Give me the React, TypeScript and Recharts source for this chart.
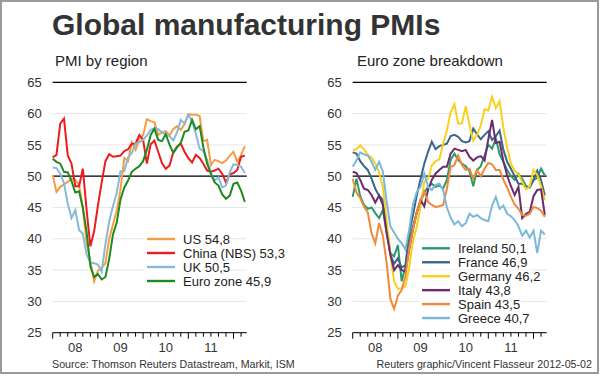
import { CartesianGrid, Line, LineChart, ReferenceLine, XAxis, YAxis } from 'recharts'

// monthly readings, Jan 2008 .. Apr 2012
const START_YEAR = 2008
const periods = Array.from(
  { length: 52 },
  (_, i) => `${START_YEAR + Math.floor(i / 12)}-${String((i % 12) + 1).padStart(2, '0')}`,
)

const yearLabels = ['08', '09', '10', '11']
const yTicks = [25, 30, 35, 40, 45, 50, 55, 60, 65]
const xTicks = [0, 2, 4, 6, 8, 10, 12, 14, 16, 18, 20, 22, 24, 26, 28, 30, 32, 34, 36, 38, 40, 42, 44, 46, 48, 50]

// PMI by region
const us = [
  50.2, 47.5, 48.3, 48.7, 49.1, 49.6, 49.4, 48.6, 44.8, 39.5, 36.4, 33.2,
  34.9, 35.4, 36.1, 40.0, 42.3, 44.5, 47.9, 52.9, 52.4, 55.4, 54.2, 56.0,
  56.5, 59.1, 58.8, 58.6, 56.6, 57.0, 57.2, 56.5, 57.5, 58.0, 57.4, 58.3,
  59.9, 59.8, 59.8, 59.6, 55.6, 55.8, 51.8, 52.6, 52.4, 52.1, 52.5, 53.3,
  53.9, 52.3, 53.4, 54.8,
]
const china = [
  53.0, 53.4, 58.4, 59.2, 53.3, 52.0, 48.4, 48.4, 51.2, 44.6, 38.8, 41.2,
  45.3, 49.0, 52.4, 53.5, 53.1, 53.2, 53.3, 54.0, 54.3, 55.2, 55.2, 56.6,
  55.8, 52.0, 55.1, 55.7, 53.9, 52.1, 51.2, 51.7, 53.8, 54.7, 55.2, 53.9,
  52.9, 52.2, 53.4, 52.9, 52.0, 50.9, 50.7, 50.9, 51.2, 50.4, 49.0, 50.3,
  50.5, 51.0, 53.1, 53.3,
]
const uk = [
  51.4, 51.3, 50.4, 48.9, 45.6, 43.3, 44.6, 41.4, 40.8, 37.5, 36.2, 36.1,
  35.9, 34.7, 39.2, 42.8, 45.2, 47.3, 50.8, 50.8, 53.0, 53.7, 55.2, 55.4,
  55.8, 56.5, 57.4, 57.6, 57.5, 57.0, 56.6, 56.4, 55.7, 57.0, 59.0, 58.4,
  59.8, 58.8, 56.8, 54.4, 54.0, 52.6, 50.3, 49.3, 49.8, 48.2, 48.5, 50.6,
  51.9, 51.8, 51.5, 50.5,
]
const euroZone = [
  52.8, 52.3, 52.0, 50.7, 50.6, 49.2, 47.4, 47.6, 45.0, 41.1, 35.6, 33.9,
  34.4, 33.5, 33.9, 36.8, 40.7, 42.6, 46.3, 48.2, 49.3, 50.7, 51.2, 51.6,
  52.4, 54.2, 56.6, 57.6, 55.8, 55.6, 56.7, 55.1, 53.7, 54.6, 55.3, 57.1,
  57.3, 59.0, 57.5, 58.0, 54.6, 52.0, 50.4, 49.0, 48.5, 47.1, 46.4, 46.9,
  48.8, 49.0, 47.7, 45.9,
]

// Euro zone breakdown
const ireland = [
  46.7, 49.6, 46.8, 45.4, 44.8, 45.0, 44.1, 43.3, 44.6, 41.0, 37.7, 37.2,
  39.0, 33.2, 35.6, 39.9, 42.0, 44.2, 45.8, 47.4, 48.3, 48.8, 48.3, 48.5,
  48.0, 49.4, 52.6, 53.6, 52.6, 52.0, 51.6, 50.8, 48.4, 51.0, 51.6, 53.3,
  55.0, 54.4, 56.0, 53.5, 52.3, 51.0, 50.0, 49.4, 50.4, 49.6, 48.4, 48.2,
  49.4, 49.7, 51.2, 50.1,
]
const france = [
  53.8, 53.6, 52.4, 51.6, 51.0, 49.6, 48.0, 46.9, 46.2, 42.0, 37.5, 36.0,
  36.9, 35.4, 35.8, 40.9, 43.8, 46.9, 49.5, 52.0, 53.9, 55.5, 54.3, 54.8,
  55.0, 55.2, 56.4, 56.6, 56.3, 55.6, 55.4, 55.6, 57.6, 56.7, 55.9, 56.6,
  57.2, 55.8, 56.4, 57.3, 54.2, 52.3, 51.2, 50.0, 48.8, 48.8, 48.3, 48.3,
  49.4, 50.9, 49.4, 46.9,
]
const germany = [
  54.2, 54.3, 54.9, 54.3, 53.4, 53.0, 52.0, 50.6, 48.3, 43.0, 37.5, 33.2,
  32.0, 32.1, 32.4, 35.4, 39.6, 41.9, 45.1, 49.1, 49.6, 51.7, 52.4, 52.7,
  55.2, 57.3, 60.2, 61.5, 58.4, 58.4, 61.2, 58.2, 55.7, 56.6, 58.1, 60.7,
  60.5, 62.7, 60.9, 62.0, 57.7, 54.6, 52.0, 50.9, 50.3, 49.1, 47.9, 48.4,
  51.0, 50.2, 48.4, 46.2,
]
const italy = [
  50.7, 50.5, 49.4, 48.0, 47.8, 47.0, 45.8, 46.9, 45.4, 41.0, 37.5, 35.0,
  35.8, 35.0, 34.8, 38.3, 41.5, 44.2, 46.2, 45.2, 47.8, 49.4, 50.4, 51.0,
  51.5, 51.5, 53.6, 54.4, 54.2, 54.0, 54.2, 53.1, 52.5, 53.0, 53.2, 52.5,
  55.9, 59.0, 55.3, 55.5, 52.4, 50.1, 48.4, 47.0, 48.3, 43.3, 44.0, 44.3,
  46.8, 47.8, 47.9, 43.8,
]
const spain = [
  49.6, 47.4, 46.5, 45.1, 44.2, 40.9, 39.3, 42.5, 40.5, 36.2, 30.4, 28.8,
  30.9, 31.8, 34.0, 38.5, 41.5, 44.2, 46.2, 47.5, 45.9, 45.4, 45.1, 45.2,
  45.4, 48.0, 51.5, 51.8, 53.3, 51.8, 51.0, 51.2, 49.6, 51.0, 50.0, 51.2,
  52.1, 51.9, 51.0, 51.0, 49.4, 48.2, 46.7, 45.5, 44.8, 43.8, 43.7, 44.0,
  45.1, 44.9, 44.5, 43.5,
]
const greece = [
  51.5, 52.5, 53.8, 53.5, 53.3, 52.3, 51.0, 52.3, 50.8, 46.0, 42.0, 41.0,
  40.0, 39.3, 38.3, 41.5, 45.5, 47.5, 48.3, 50.4, 48.3, 47.8, 48.6, 48.8,
  47.8, 45.0, 43.4, 42.3, 42.8, 42.0, 42.5, 44.0, 43.5, 43.8, 43.3, 43.0,
  42.8, 45.3, 46.7, 44.8, 45.3, 44.0, 43.6, 43.0, 42.0, 40.5, 41.3, 40.2,
  41.3, 37.7, 41.3, 40.7,
]

type Series = { key: string; name: string; color: string; values: number[] }

const regionSeries: Series[] = [
  { key: 'us', name: 'US 54,8', color: '#f59d45', values: us },
  { key: 'china', name: 'China (NBS) 53,3', color: '#ec1c1c', values: china },
  { key: 'uk', name: 'UK 50,5', color: '#88bad8', values: uk },
  { key: 'ez', name: 'Euro zone 45,9', color: '#1f8a1f', values: euroZone },
]

const euroSeries: Series[] = [
  { key: 'ie', name: 'Ireland 50,1', color: '#2b9a6b', values: ireland },
  { key: 'fr', name: 'France 46,9', color: '#3a6689', values: france },
  { key: 'de', name: 'Germany 46,2', color: '#f9d01c', values: germany },
  { key: 'it', name: 'Italy 43,8', color: '#6c2b6c', values: italy },
  { key: 'es', name: 'Spain 43,5', color: '#f08a3a', values: spain },
  { key: 'gr', name: 'Greece 40,7', color: '#7cb8d8', values: greece },
]

const FONT = '"Liberation Sans", Arial, sans-serif'

function MonthTick({ x, y, payload }: any) {
  const v = payload.value as number
  const isYear = v % 12 === 0
  const label = v % 12 === 6 ? yearLabels[(v - 6) / 12] : null
  return (
    <g>
      <line x1={x} x2={x} y1={y} y2={y + (isYear ? 6 : 4)} stroke="#000" />
      {label && (
        <text x={x} y={y + 19} textAnchor="middle" fontSize={13} fill="#333">
          {label}
        </text>
      )}
    </g>
  )
}

function Panel({ series }: { series: Series[] }) {
  const rows = periods.map((p, i) => {
    const row: Record<string, number | string> = { m: i, period: p }
    series.forEach((s) => (row[s.key] = s.values[i]))
    return row
  })

  return (
    <LineChart
      width={300}
      height={376}
      data={rows}
      margin={{ top: 82.3, right: 53.3, bottom: 13.3, left: 0 }}
      style={{ fontFamily: FONT }}
    >
      <CartesianGrid vertical={false} stroke="#e6e6e6" />
      <XAxis
        type="number"
        dataKey="m"
        domain={[0, 51.5]}
        ticks={xTicks}
        interval={0}
        height={30}
        tick={<MonthTick />}
        tickSize={0}
        tickMargin={0}
        tickLine={false}
        axisLine={{ stroke: '#000' }}
      />
      <YAxis
        type="number"
        domain={[25, 65]}
        ticks={yTicks}
        interval={0}
        width={52.7}
        tickSize={0}
        tickMargin={11}
        axisLine={false}
        tickLine={false}
        tick={{ fill: '#333', fontSize: 13 }}
      />
      <ReferenceLine y={65} stroke="#000" strokeWidth={1.2} />
      <ReferenceLine y={50} stroke="#000" strokeWidth={1.2} />
      {series.map((s) => (
        <Line
          key={s.key}
          dataKey={s.key}
          stroke={s.color}
          strokeWidth={2}
          dot={false}
          type="linear"
          isAnimationActive={false}
        />
      ))}
    </LineChart>
  )
}

function LegendRows({ series, x, y, step }: { series: Series[]; x: number; y: number; step: number }) {
  return (
    <g>
      {series.map((s, i) => (
        <g key={s.key}>
          <rect x={x - 3} y={y + i * step - 6} width={s.name.length * 6.2 + 40} height={12} fill="#fff" />
          <line x1={x} x2={x + 28} y1={y + i * step} y2={y + i * step} stroke={s.color} strokeWidth={2.4} />
          <text x={x + 36} y={y + i * step + 5} fontSize={13} fill="#222">
            {s.name}
          </text>
        </g>
      ))}
    </g>
  )
}

export default function App() {
  return (
    <div
      style={{
        position: 'absolute',
        left: 0,
        top: 0,
        width: 600,
        height: 376,
        background: '#fff',
        fontFamily: FONT,
      }}
    >
      <div style={{ position: 'absolute', left: 0, top: 0 }}>
        <Panel series={regionSeries} />
      </div>
      <div style={{ position: 'absolute', left: 300, top: 0 }}>
        <Panel series={euroSeries} />
      </div>
      <svg
        width={600}
        height={376}
        style={{ position: 'absolute', left: 0, top: 0, pointerEvents: 'none', fontFamily: FONT }}
      >
        <rect x={1} y={1} width={597} height={372} fill="none" stroke="#9a9a9a" strokeWidth={2} />
        <text x={52} y={35} fontSize={30} fontWeight="bold" fill="#333">
          Global manufacturing PMIs
        </text>
        <text x={55} y={66} fontSize={15} fill="#222">
          PMI by region
        </text>
        <text x={357} y={66} fontSize={15} fill="#222">
          Euro zone breakdown
        </text>
        <LegendRows series={regionSeries} x={147} y={239} step={14} />
        <LegendRows series={euroSeries} x={422} y={248.3} step={13.95} />
        <text x={52} y={368} fontSize={10.7} fill="#333">
          Source: Thomson Reuters Datastream, Markit, ISM
        </text>
        <text x={592} y={368} fontSize={10.7} fill="#333" textAnchor="end">
          Reuters graphic/Vincent Flasseur 2012-05-02
        </text>
      </svg>
    </div>
  )
}
